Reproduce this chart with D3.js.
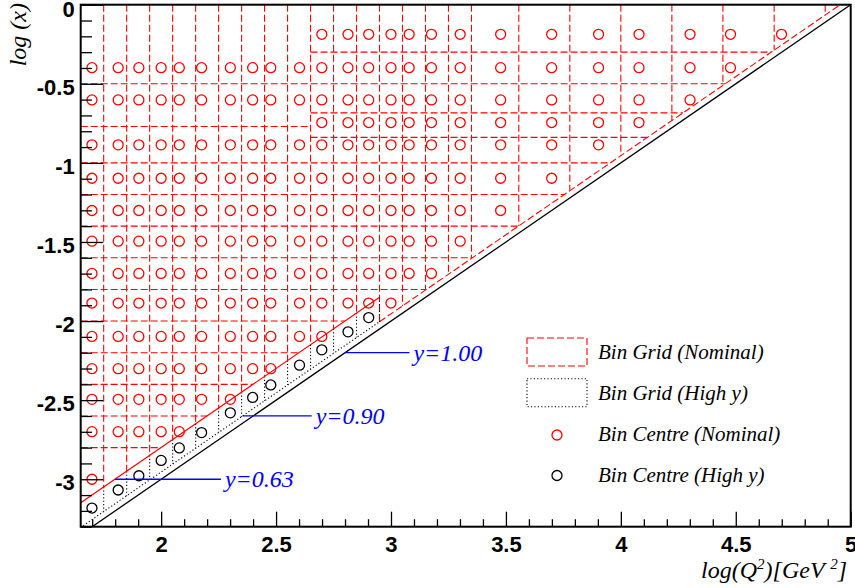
<!DOCTYPE html>
<html><head><meta charset="utf-8">
<script src="https://cdn.jsdelivr.net/npm/d3@7"></script>
<style>body{margin:0;background:#fff;} svg{display:block;}</style>
</head><body><svg id="c" width="855" height="588"></svg>
<script>
// ---------------- data ----------------
const q2Centres = [1.699, 1.813, 1.903, 2.0, 2.079, 2.176, 2.301, 2.398, 2.477, 2.602, 2.699, 2.813, 2.903,
                   3.0, 3.079, 3.176, 3.301, 3.477, 3.699, 3.903, 4.079, 4.301, 4.477, 4.699];
const nominalRowCount = [13, 12, 12, 12, 12, 11, 11, 10, 10, 9, 11, 10, 10, 10, 9, 9, 8, 7, 6, 5, 4, 3, 2, 1];
const xCentresLowQ2 = [-0.398, -0.602, -0.886, -1.097, -1.301, -1.495, -1.699, -1.886, -2.097, -2.301, -2.495, -2.699, -3.0];
const xCentresHighQ2 = [-0.187, -0.398, -0.602, -0.745, -0.886, -1.097, -1.301, -1.495, -1.699, -1.886, -2.097];
const q2Edges = [1.65, 1.75, 1.85, 1.95, 2.05, 2.15, 2.25, 2.35, 2.45, 2.55, 2.65, 2.75, 2.85, 2.95,
                 3.05, 3.15, 3.25, 3.35, 3.556, 3.778, 4.0, 4.222, 4.444, 4.667, 4.889, 5.111];
const xEdgesLowQ2 = [0, -0.5, -0.77, -1.0, -1.2, -1.4, -1.6, -1.8, -2.0, -2.2, -2.4, -2.6, -2.8, -3.2];
const xEdgesHighQ2 = [0, -0.3, -0.5, -0.684, -0.839, -1.0, -1.2, -1.4, -1.6, -1.8, -2.0, -2.2, -2.4];
const regionSplitQ2 = 2.65;
const yCutSplitQ2 = 2.95;
const yCutLow = 0.63, yCutHigh = 0.9;
const logS = 5;

const highYQ2Centres = [1.699, 1.813, 1.903, 2.0, 2.079, 2.176, 2.301, 2.398, 2.477, 2.602, 2.699, 2.813, 2.903];
const highYXCentres = [-3.182, -3.068, -2.978, -2.881, -2.802, -2.705, -2.580, -2.483, -2.404, -2.279, -2.182, -2.068, -1.978];
const highYQ2Edges = [1.75, 1.85, 1.95, 2.05, 2.15, 2.25, 2.35, 2.45, 2.55, 2.65, 2.75, 2.85, 2.95];

const yLabelValues = [1.0, 0.9, 0.63];
const yLabelTexts = ["y=1.00", "y=0.90", "y=0.63"];
const yLabelLogX = [-2.2, -2.6, -3.0];
const yLabelEndQ2 = [3.08, 2.655, 2.26];

const xTicks = [2, 2.5, 3, 3.5, 4, 4.5, 5];
const xTickLabels = ["2", "2.5", "3", "3.5", "4", "4.5", "5"];
const yTicks = [0, -0.5, -1, -1.5, -2, -2.5, -3];
const yTickLabels = ["0", "-0.5", "-1", "-1.5", "-2", "-2.5", "-3"];
const legendLabels = ["Bin Grid (Nominal)", "Bin Grid (High y)", "Bin Centre (Nominal)", "Bin Centre (High y)"];

// ---------------- layout ----------------
const L = 80.7, R = 850.7, T = 4.7, B = 526.7;
const RED = "#ff0000", BLUE = "#0000ff";
const DASH = "7,3", DOT = "1.2,2.2";
const serif = "'Liberation Serif','Times New Roman',serif";
const sans = "'Liberation Sans',Arial,Helvetica,sans-serif";

const svg = d3.select("#c");
svg.append("rect").attr("width", 855).attr("height", 588).attr("fill", "#fff");

const x = d3.scaleLinear().domain([1.65, 5]).range([L, R]);
const y = d3.scaleLinear().domain([-3.3, 0]).range([B, T]);

svg.append("clipPath").attr("id", "plot").append("rect")
  .attr("x", L).attr("y", T).attr("width", R - L).attr("height", B - T);
const g = svg.append("g").attr("clip-path", "url(#plot)");

const yCut = q => (q < yCutSplitQ2 - 1e-9 ? yCutLow : yCutHigh);
const lxAt = (q, yv) => q - logS - Math.log10(yv); // log x on the line of constant y

// ---------------- nominal grid ----------------
const hSegs = new Map();
const vExt = new Map();
for (let j = 0; j < q2Edges.length - 1; j++) {
  const q0 = q2Edges[j], q1 = q2Edges[j + 1];
  const edges = q0 < regionSplitQ2 - 1e-9 ? xEdgesLowQ2 : xEdgesHighQ2;
  const lc = Math.log10(yCut(q0));
  const bottom = edges[edges.length - 1];
  edges.forEach(e => {
    if (e === 0) return;
    const qe = Math.min(q1, e + logS + lc);
    if (qe > q0 + 1e-9) {
      const k = e.toFixed(3);
      if (!hSegs.has(k)) hSegs.set(k, []);
      hSegs.get(k).push([q0, qe]);
    }
  });
  [q0, q1].forEach(q => {
    const low = Math.max(bottom, q - logS - lc);
    const k = q.toFixed(3);
    vExt.set(k, Math.min(vExt.has(k) ? vExt.get(k) : 0, low));
  });
}
const gridLines = [];
hSegs.forEach((segs, k) => {
  segs.sort((a, b) => a[0] - b[0]);
  let cur = null;
  segs.forEach(s => {
    if (cur && s[0] <= cur[1] + 1e-6) cur[1] = Math.max(cur[1], s[1]);
    else { if (cur) gridLines.push({ x1: cur[0], y1: +k, x2: cur[1], y2: +k }); cur = s.slice(); }
  });
  if (cur) gridLines.push({ x1: cur[0], y1: +k, x2: cur[1], y2: +k });
});
vExt.forEach((low, k) => {
  if (+k <= 1.65 + 1e-6) return;
  gridLines.push({ x1: +k, y1: 0, x2: +k, y2: low });
});
gridLines.push({ x1: yCutSplitQ2, y1: lxAt(yCutSplitQ2, yCutHigh), x2: 5.2, y2: lxAt(5.2, yCutHigh) });

g.append("g").selectAll("line").data(gridLines).join("line")
  .attr("x1", d => x(d.x1)).attr("y1", d => y(d.y1))
  .attr("x2", d => x(d.x2)).attr("y2", d => y(d.y2))
  .attr("stroke", RED).attr("stroke-width", 1.1).attr("stroke-dasharray", DASH).attr("fill", "none");

// ---------------- high-y grid ----------------
const hyLines = highYQ2Edges.map(q => ({ x1: q, y1: lxAt(q, yCutLow), x2: q, y2: lxAt(q, yCutHigh) }));
hyLines.push({ x1: 1.6, y1: lxAt(1.6, yCutHigh), x2: yCutSplitQ2, y2: lxAt(yCutSplitQ2, yCutHigh) });
g.append("g").selectAll("line").data(hyLines).join("line")
  .attr("x1", d => x(d.x1)).attr("y1", d => y(d.y1))
  .attr("x2", d => x(d.x2)).attr("y2", d => y(d.y2))
  .attr("stroke", "#000").attr("stroke-width", 1.1).attr("stroke-dasharray", DOT);

g.append("line")
  .attr("x1", x(1.6)).attr("y1", y(lxAt(1.6, yCutLow)))
  .attr("x2", x(yCutSplitQ2)).attr("y2", y(lxAt(yCutSplitQ2, yCutLow)))
  .attr("stroke", RED).attr("stroke-width", 1.2);
g.append("line")
  .attr("x1", x(1.6)).attr("y1", y(lxAt(1.6, 1.0)))
  .attr("x2", x(5.1)).attr("y2", y(lxAt(5.1, 1.0)))
  .attr("stroke", "#000").attr("stroke-width", 1.3);

// ---------------- bin centres ----------------
const nominalPts = [];
q2Centres.forEach((q, i) => {
  const rows = q < regionSplitQ2 ? xCentresLowQ2 : xCentresHighQ2;
  rows.slice(0, nominalRowCount[i]).forEach(lx => nominalPts.push({ q, lx }));
});
g.append("g").selectAll("circle").data(nominalPts).join("circle")
  .attr("cx", d => x(d.q)).attr("cy", d => y(d.lx)).attr("r", 5)
  .attr("fill", "none").attr("stroke", RED).attr("stroke-width", 1.3);

const hyPts = highYQ2Centres.map((q, i) => ({ q, lx: highYXCentres[i] }));
g.append("g").selectAll("circle").data(hyPts).join("circle")
  .attr("cx", d => x(d.q)).attr("cy", d => y(d.lx)).attr("r", 5)
  .attr("fill", "none").attr("stroke", "#000").attr("stroke-width", 1.3);

// ---------------- y labels (blue) ----------------
yLabelValues.forEach((yv, i) => {
  const lx = yLabelLogX[i];
  const q0 = lx + logS + Math.log10(yv);
  svg.append("line")
    .attr("x1", x(q0)).attr("y1", y(lx)).attr("x2", x(yLabelEndQ2[i])).attr("y2", y(lx))
    .attr("stroke", BLUE).attr("stroke-width", 1.3);
  svg.append("text")
    .attr("x", x(yLabelEndQ2[i]) + 4).attr("y", y(lx) + 8)
    .attr("font-family", serif).attr("font-style", "italic").attr("font-size", 24)
    .attr("fill", BLUE).text(yLabelTexts[i]);
});

// ---------------- axes ----------------
const xMinor = d3.range(17, 51).map(v => v / 10).filter(v => !xTicks.some(t => Math.abs(t - v) < 1e-6));
const yMinor = d3.range(-33, 1).map(v => v / 10).filter(v => !yTicks.some(t => Math.abs(t - v) < 1e-6));

const gxMinor = svg.append("g").attr("transform", `translate(0,${B})`)
  .call(d3.axisBottom(x).tickValues(xMinor).tickSize(-7.5).tickFormat(""));
const gx = svg.append("g").attr("transform", `translate(0,${B})`)
  .call(d3.axisBottom(x).tickValues(xTicks).tickSize(-15).tickPadding(10)
    .tickFormat((d, i) => xTickLabels[i]));
const gyMinor = svg.append("g").attr("transform", `translate(${L},0)`)
  .call(d3.axisLeft(y).tickValues(yMinor).tickSize(-11.3).tickFormat(""));
const gy = svg.append("g").attr("transform", `translate(${L},0)`)
  .call(d3.axisLeft(y).tickValues(yTicks).tickSize(-22.6).tickPadding(6)
    .tickFormat((d, i) => yTickLabels[i]));

[gx, gy, gxMinor, gyMinor].forEach(a => {
  a.select(".domain").remove();
  a.selectAll(".tick line").attr("stroke", "#000").attr("stroke-width", 1.3);
  a.selectAll(".tick text").attr("font-family", sans).attr("font-weight", "bold")
    .attr("font-size", 22).attr("fill", "#000");
});
gy.selectAll(".tick text").attr("dy", (d, i) => (i === 0 ? "0.53em" : "0.48em"));

// frame
svg.append("rect").attr("x", L).attr("y", T).attr("width", R - L).attr("height", B - T)
  .attr("fill", "none").attr("stroke", "#000").attr("stroke-width", 2);

// axis titles
svg.append("text")
  .attr("transform", `translate(26,3) rotate(-90)`)
  .attr("text-anchor", "end")
  .attr("font-family", serif).attr("font-style", "italic").attr("font-size", 24)
  .text("log (x)");
const xt = svg.append("text").attr("x", 847).attr("y", 578).attr("text-anchor", "end")
  .attr("font-family", serif).attr("font-style", "italic").attr("font-size", 24);
xt.append("tspan").text("log(Q");
xt.append("tspan").attr("font-size", 15).attr("dy", -9).text("2");
xt.append("tspan").attr("dy", 9).text(")[GeV ");
xt.append("tspan").attr("font-size", 15).attr("dy", -9).text("2");
xt.append("tspan").attr("dy", 9).text("]");

// ---------------- legend ----------------
const lgX = 527, lgY = 338, lgRowH = [0, 40.7, 82, 122.5];
const lg = svg.append("g").attr("transform", `translate(${lgX},${lgY})`);
lg.append("rect").attr("x", 0).attr("y", 0).attr("width", 60).attr("height", 28)
  .attr("fill", "none").attr("stroke", RED).attr("stroke-width", 1.1).attr("stroke-dasharray", DASH);
lg.append("rect").attr("x", 0).attr("y", lgRowH[1]).attr("width", 60).attr("height", 28)
  .attr("fill", "none").attr("stroke", "#000").attr("stroke-width", 1.1).attr("stroke-dasharray", DOT);
lg.append("circle").attr("cx", 30).attr("cy", lgRowH[2] + 15).attr("r", 5)
  .attr("fill", "none").attr("stroke", RED).attr("stroke-width", 1.3);
lg.append("circle").attr("cx", 30).attr("cy", lgRowH[3] + 15).attr("r", 5)
  .attr("fill", "none").attr("stroke", "#000").attr("stroke-width", 1.3);
legendLabels.forEach((t, i) => {
  lg.append("text").attr("x", 71).attr("y", lgRowH[i] + 21)
    .attr("font-family", serif).attr("font-style", "italic").attr("font-size", 21)
    .attr("fill", "#000").text(t);
});
</script></body></html>
